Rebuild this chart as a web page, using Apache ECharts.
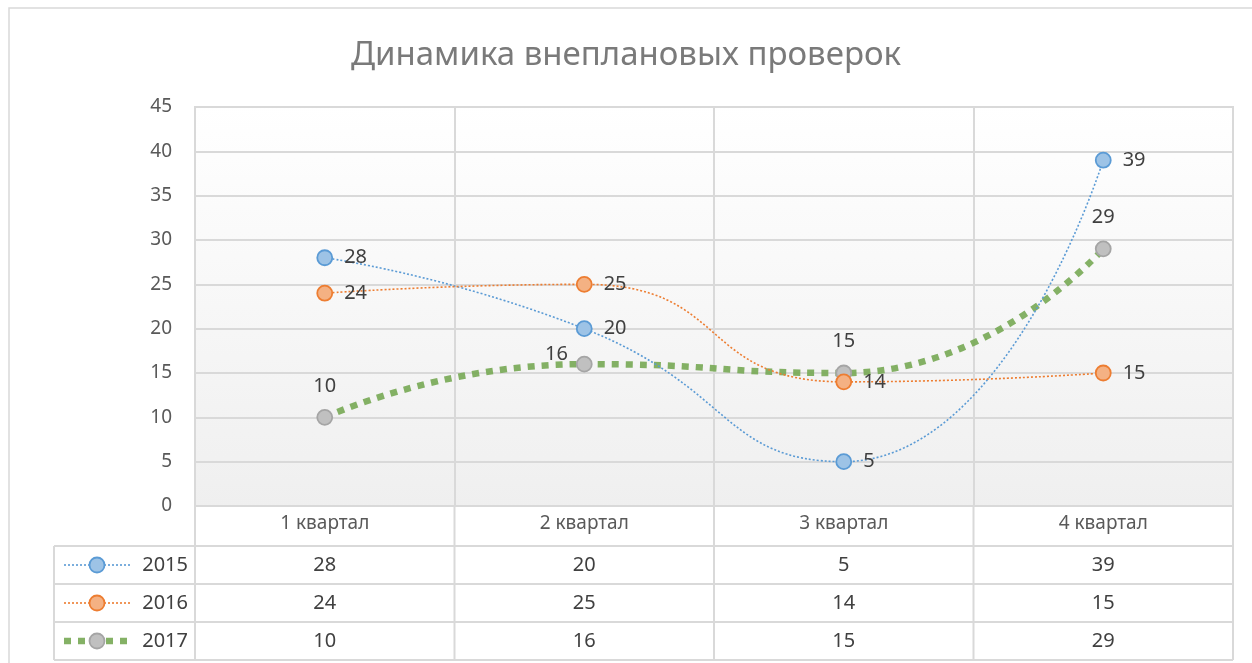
<!DOCTYPE html>
<html><head><meta charset="utf-8">
<script src="https://cdn.jsdelivr.net/npm/echarts@6/dist/echarts.min.js"></script>
<style>html,body{margin:0;padding:0;background:#fff}#c{width:1252px;height:663px}</style>
</head><body><div id="c"></div>
<script>
const title = 'Динамика внеплановых проверок';
const categories = ['1 квартал', '2 квартал', '3 квартал', '4 квартал'];
const seriesNames = ['2015', '2016', '2017'];
const s2015 = [28, 20, 5, 39];
const s2016 = [24, 25, 14, 15];
const s2017 = [10, 16, 15, 29];
const yTicks = [0, 5, 10, 15, 20, 25, 30, 35, 40, 45];

const FONT = 'Noto Sans';
const G = {left: 195, top: 107, right: 19, bottom: 157};
const W = 1252, H = 663;
const plotR = W - G.right, plotB = H - G.bottom;
const rowH = 38, headH = 40, legendL = 54;
const colors = [
  {line: '#5b9bd5', fill: '#9dc3e6', border: '#5b9bd5'},
  {line: '#ed7d31', fill: '#f4b183', border: '#ed7d31'},
  {line: '#77a954', fill: '#c0c0c0', border: '#a5a5a5'}
];
const values = [s2015, s2016, s2017];

const chart = echarts.init(document.getElementById('c'));

function mkSeries(i) {
  const c = colors[i];
  const thick = i === 2;
  let data = values[i].slice();
  if (thick) {
    data = values[i].map((v, k) => k === 1 ? {value: v, label: {position: 'left', offset: [0, -10], distance: 8}} : v);
  }
  return {
    name: seriesNames[i], type: 'line', smooth: 0.55, data: data,
    symbol: 'circle', symbolSize: 15, z: thick ? 3 : 4,
    lineStyle: {color: c.line, width: thick ? 6.5 : 1.6, type: thick ? [7, 7] : [2, 2], opacity: thick ? 0.9 : 1},
    itemStyle: {color: c.fill, borderColor: c.border, borderWidth: 1.8},
    label: {show: true, position: thick ? 'top' : 'right', distance: thick ? 13 : 11,
      fontFamily: FONT, fontSize: 20, color: '#404040'},
    emphasis: {disabled: true}
  };
}

const option = {
  animation: false,
  title: {text: title, left: 'center', top: 34,
    textStyle: {fontFamily: FONT, fontSize: 33, fontWeight: 'normal', color: '#7a7a7a'}},
  grid: {left: G.left, top: G.top, right: G.right, bottom: G.bottom, show: true,
    borderColor: '#d9d9d9', borderWidth: 2,
    backgroundColor: new echarts.graphic.LinearGradient(0, 0, 0, 1, [
      {offset: 0, color: '#ffffff'}, {offset: 1, color: '#efefef'}])},
  xAxis: {type: 'category', data: categories, boundaryGap: true,
    axisLine: {show: true, lineStyle: {color: '#d9d9d9', width: 2}},
    axisTick: {show: false},
    splitLine: {show: true, lineStyle: {color: '#d9d9d9', width: 2}},
    axisLabel: {fontFamily: FONT, fontSize: 19, color: '#595959', margin: 8}},
  yAxis: {type: 'value', min: yTicks[0], max: yTicks[yTicks.length - 1], interval: 5,
    axisLine: {show: true, lineStyle: {color: '#d9d9d9', width: 2}},
    axisTick: {show: false},
    splitLine: {show: true, lineStyle: {color: '#d9d9d9', width: 2}},
    axisLabel: {fontFamily: FONT, fontSize: 19, color: '#595959', margin: 23}},
  series: [mkSeries(0), mkSeries(1), mkSeries(2)]
};
chart.setOption(option);

const gfx = [];
const lc = '#d9d9d9';
function hline(x1, x2, y) { gfx.push({type: 'line', shape: {x1, y1: y, x2, y2: y}, style: {stroke: lc, lineWidth: 2}, silent: true}); }
function vline(x, y1, y2) { gfx.push({type: 'line', shape: {x1: x, y1, x2: x, y2}, style: {stroke: lc, lineWidth: 2}, silent: true}); }
gfx.push({type: 'rect', shape: {x: 9, y: 8, width: 1400, height: 800}, style: {fill: 'none', stroke: '#d9d9d9', lineWidth: 1.5}, silent: true, z: -10});
const tableTop = plotB + headH;
const nRows = seriesNames.length;
for (let r = 0; r <= nRows; r++) hline(legendL, plotR, tableTop + r * rowH);
vline(legendL, tableTop, tableTop + nRows * rowH);
vline(G.left, plotB, tableTop + nRows * rowH);
const catW = (plotR - G.left) / categories.length;
for (let k = 1; k <= categories.length; k++) vline(G.left + k * catW, plotB, tableTop + nRows * rowH);
for (let r = 0; r < nRows; r++) {
  const cy = tableTop + r * rowH + rowH / 2;
  const c = colors[r];
  const thick = r === 2;
  gfx.push({type: 'line', shape: {x1: 64, y1: cy, x2: 131, y2: cy},
    style: {stroke: c.line, lineWidth: thick ? 6.5 : 1.6, lineDash: thick ? [7, 7] : [2, 2], opacity: thick ? 0.9 : 1}, silent: true});
  gfx.push({type: 'circle', shape: {cx: 97, cy: cy, r: 7.5}, style: {fill: c.fill, stroke: c.border, lineWidth: 1.8}, silent: true});
  gfx.push({type: 'text', x: 188, y: cy, style: {text: seriesNames[r], align: 'right', verticalAlign: 'middle',
    font: '20px "' + FONT + '"', fill: '#404040'}, silent: true});
  for (let k = 0; k < categories.length; k++) {
    const cx = chart.convertToPixel({xAxisIndex: 0}, k);
    gfx.push({type: 'text', x: cx, y: cy, style: {text: String(values[r][k]), align: 'center', verticalAlign: 'middle',
      font: '20px "' + FONT + '"', fill: '#404040'}, silent: true});
  }
}
chart.setOption({graphic: gfx});
</script>
</body></html>
